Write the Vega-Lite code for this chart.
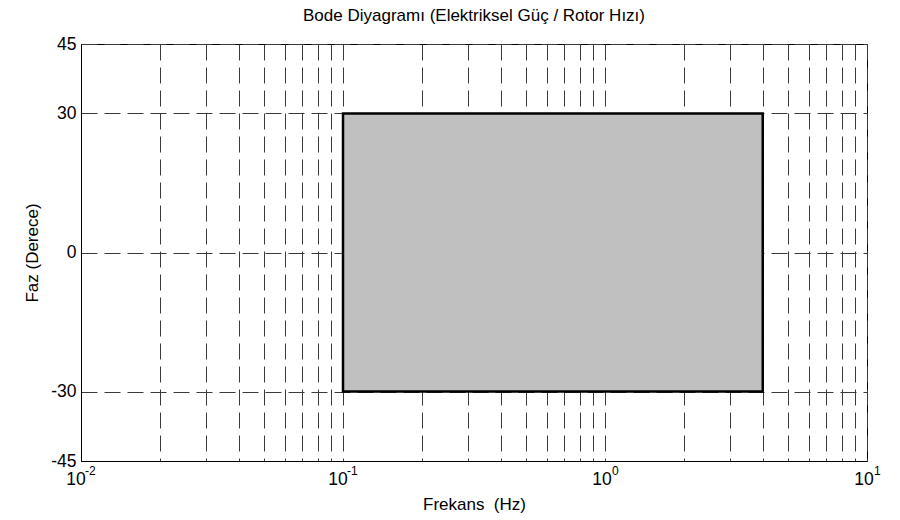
{
  "$schema": "https://vega.github.io/schema/vega-lite/v6.json",
  "width": 786,
  "height": 417,
  "autosize": {"type": "none"},
  "padding": {"left": 81, "top": 44, "right": 33, "bottom": 59},
  "background": "white",
  "config": {
    "font": "Liberation Sans",
    "view": {"stroke": "black", "strokeWidth": 1},
    "axis": {
      "zindex": 1,
      "domain": true,
      "domainColor": "black",
      "ticks": false,
      "grid": true,
      "gridColor": "#3a3a3a",
      "gridDash": [16, 7],
      "gridOpacity": 1,
      "gridWidth": 1,
      "labelFont": "Liberation Sans",
      "labelFontSize": 17.5,
      "labelColor": "black",
      "titleFont": "Liberation Sans",
      "titleFontSize": 17,
      "titleFontWeight": "normal",
      "titleColor": "black"
    }
  },
  "title": {
    "text": "Bode Diyagramı (Elektriksel Güç / Rotor Hızı)",
    "font": "Liberation Sans",
    "fontSize": 17,
    "fontWeight": "normal",
    "color": "black",
    "offset": 10,
    "anchor": "middle"
  },
  "datasets": {
    "band": [{"f_low": 0.1, "f_high": 4, "phase_low": -30, "phase_high": 30}],
    "exps": [
      {"freq": 0.01, "exp": "-2"},
      {"freq": 0.1, "exp": "-1"},
      {"freq": 1, "exp": "0"},
      {"freq": 10, "exp": "1"}
    ]
  },
  "layer": [
    {
      "data": {"name": "band"},
      "mark": {"type": "rect", "fill": "#c0c0c0", "stroke": "black", "strokeWidth": 2.5},
      "encoding": {
        "x": {
          "field": "f_low",
          "type": "quantitative",
          "scale": {"type": "log", "domain": [0.01, 10], "nice": false},
          "axis": {
            "title": "Frekans \u00a0(Hz)",
            "titlePadding": 9,
            "values": [0.01, 0.02, 0.03, 0.04, 0.05, 0.06, 0.07, 0.08, 0.09, 0.1, 0.2, 0.3, 0.4, 0.5, 0.6, 0.7, 0.8, 0.9, 1, 2, 3, 4, 5, 6, 7, 8, 9, 10],
            "labelExpr": "abs(log(datum.value)/LN10 - round(log(datum.value)/LN10)) < 1e-6 ? '10' : ''",
            "labelPadding": 9,
            "labelOverlap": false,
            "labelFlush": false,
            "labelOffset": {"condition": {"test": "datum.value < 0.5", "value": -5.5}, "value": -3.5}
          }
        },
        "x2": {"field": "f_high"},
        "y": {
          "field": "phase_low",
          "type": "quantitative",
          "scale": {"domain": [-45, 45], "nice": false, "zero": false},
          "axis": {
            "title": "Faz (Derece)",
            "titlePadding": 9,
            "values": [-45, -30, 0, 30, 45],
            "labelExpr": "'' + datum.value",
            "labelPadding": 5,
            "labelFlush": false,
            "labelOverlap": false
          }
        },
        "y2": {"field": "phase_high"}
      }
    },
    {
      "data": {"name": "exps"},
      "transform": [{"filter": "datum.freq < 0.5"}],
      "mark": {"type": "text", "align": "left", "baseline": "alphabetic", "dx": 4, "dy": 14, "fontSize": 12, "font": "Liberation Sans", "color": "black"},
      "encoding": {
        "x": {"field": "freq", "type": "quantitative"},
        "y": {"datum": -45},
        "text": {"field": "exp"}
      }
    },
    {
      "data": {"name": "exps"},
      "transform": [{"filter": "datum.freq > 0.5"}],
      "mark": {"type": "text", "align": "left", "baseline": "alphabetic", "dx": 7, "dy": 14, "fontSize": 12, "font": "Liberation Sans", "color": "black"},
      "encoding": {
        "x": {"field": "freq", "type": "quantitative"},
        "y": {"datum": -45},
        "text": {"field": "exp"}
      }
    }
  ]
}
